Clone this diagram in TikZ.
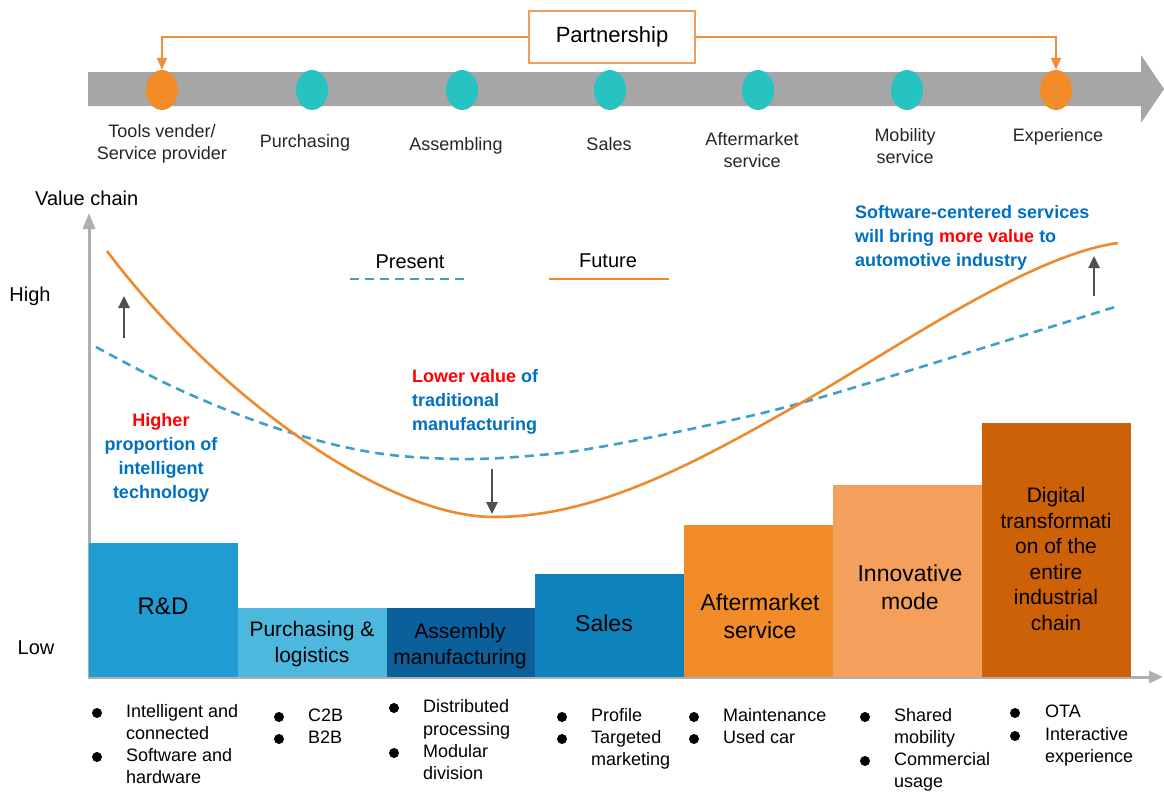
\documentclass[tikz,border=0pt]{standalone}
\usepackage{fontspec}
\setmainfont{Liberation Sans}
\usetikzlibrary{arrows.meta,shapes.geometric}
\definecolor{bargray}{HTML}{A6A6A6}
\definecolor{axisgray}{HTML}{AFAFAF}
\definecolor{tealc}{HTML}{27C3C3}
\definecolor{orangec}{HTML}{F28C28}
\definecolor{pborder}{HTML}{EFA060}
\definecolor{pline}{HTML}{EE8E3A}
\definecolor{futc}{HTML}{EE8A2E}
\definecolor{presc}{HTML}{3CA0C8}
\definecolor{darkar}{HTML}{505050}
\definecolor{bluet}{HTML}{0070C0}
\definecolor{redt}{HTML}{FF0000}
\definecolor{cRD}{HTML}{1F9DD2}
\definecolor{cPL}{HTML}{4DB8DD}
\definecolor{cAM}{HTML}{0B5F9A}
\definecolor{cSA}{HTML}{0E82BA}
\definecolor{cAF}{HTML}{F28C28}
\definecolor{cIN}{HTML}{F4A05C}
\definecolor{cDT}{HTML}{CC6108}
\begin{document}
\begin{tikzpicture}[x=1pt,y=-1pt,
  stage/.style={ellipse, minimum width=32, minimum height=40, inner sep=0, draw=none},
  toplab/.style={font=\fontsize{18}{22}\selectfont, align=center, inner sep=0, text=black!85},
  axlab/.style={font=\fontsize{20}{24}\selectfont, inner sep=0},
  ann/.style={font=\bfseries\fontsize{18}{24}\selectfont, inner sep=0, text=bluet},
  bar/.style={draw=none, inner sep=0, outer sep=0, anchor=south west},
  bartext/.style={font=\fontsize{23}{28}\selectfont, align=center, inner sep=0},
  bul/.style={font=\fontsize{18}{22}\selectfont, inner sep=0, anchor=west, text height=13, text depth=4},
  dot/.style={circle, fill=black, minimum size=10, inner sep=0},
  darr/.style={draw=darkar, line width=2.5, -{Triangle[width=11,length=12]}},
  parr/.style={draw=pline, line width=2, -{Triangle[width=10,length=12]}},
  presline/.style={presc, line width=2.6, dash pattern=on 9 off 6},
  futline/.style={futc, line width=2.6}
]
\useasboundingbox (0,0) rectangle (1164,792);

% top gray arrow
\fill[bargray] (88,72) -- (1141,72) -- (1141,55) -- (1164,89) -- (1141,123) -- (1141,106) -- (88,106) -- cycle;

% stages
\node[stage, fill=orangec] (c1) at (162,90) {};
\node[stage, fill=tealc] (c2) at (312,90) {};
\node[stage, fill=tealc] (c3) at (462,90) {};
\node[stage, fill=tealc] (c4) at (610,90) {};
\node[stage, fill=tealc] (c5) at (758,90) {};
\node[stage, fill=tealc] (c6) at (907,90) {};
\node[stage, fill=orangec] (c7) at (1056,90) {};

\node[draw=pborder, line width=1.8, fill=white, minimum width=166, minimum height=52, inner sep=0,
  font=\fontsize{22}{26}\selectfont] (pb) at (612,37) {Partnership};
\draw[parr] (pb.west) -| (c1.north);
\draw[parr] (pb.east) -| (c7.north);

\node[toplab] (l1) at (162,144) {Tools vender/\\Service provider};
\node[toplab] (l2) at (305,143) {Purchasing};
\node[toplab] (l3) at (456,146) {Assembling};
\node[toplab] (l4) at (609,144) {Sales};
\node[toplab] (l5) at (752,150) {Aftermarket\\service};
\node[toplab] (l6) at (905,146) {Mobility\\service};
\node[toplab] (l7) at (1058,137) {Experience};

% axes
\draw[axisgray, line width=3, -{Triangle[width=12,length=16]}] (89,679) -- (89,213);
\draw[axisgray, line width=3, -{Triangle[width=12,length=14]}] (89,677) -- (1163,677);
\node[axlab, anchor=west] (vc) at (35,198) {Value chain};
\node[axlab] (hi) at (30,296) {High};
\node[axlab] (lo) at (36,648) {Low};

% bars
\node[bar, fill=cRD, minimum width=149, minimum height=134] (b1) at (89,677) {};
\node[bar, fill=cPL, minimum width=149, minimum height=69] (b2) at (238,677) {};
\node[bar, fill=cAM, minimum width=148, minimum height=69] (b3) at (387,677) {};
\node[bar, fill=cSA, minimum width=149, minimum height=103] (b4) at (535,677) {};
\node[bar, fill=cAF, minimum width=149, minimum height=152] (b5) at (684,677) {};
\node[bar, fill=cIN, minimum width=149, minimum height=192] (b6) at (833,677) {};
\node[bar, fill=cDT, minimum width=149, minimum height=254] (b7) at (982,677) {};

\node[bartext, font=\fontsize{24}{28}\selectfont] (t1) at (163,606) {R\&D};
\node[bartext, font=\fontsize{21}{26}\selectfont] (t2) at (312,644) {Purchasing \&\\logistics};
\node[bartext, font=\fontsize{21}{26}\selectfont] (t3) at (460,646) {Assembly\\manufacturing};
\node[bartext] (t4) at (604,623) {Sales};
\node[bartext] (t5) at (760,616) {Aftermarket\\service};
\node[bartext] (t6) at (910,587) {Innovative\\mode};
\node[bartext, font=\fontsize{21}{25.6}\selectfont] (t7) at (1056,559) {Digital\\transformati\\on of the\\entire\\industrial\\chain};

% curves
\draw[presline] plot[smooth, tension=0.6] coordinates
  {(96,347) (180,390) (276,428) (370,452) (460,459) (540,455) (600,447) (700,427) (801,403) (960,355) (1118,306)};
\draw[futline] (107,251) .. controls (215,395) and (385,517) .. (494,517)
  .. controls (600,517) and (700,460) .. (801,403)
  .. controls (900,346) and (1030,255) .. (1118,243);

% legend
\node[axlab] (lp) at (410,262) {Present};
\draw[presline] (350,279) -- (468,279);
\node[axlab] (lf) at (608,261) {Future};
\draw[futline] (549,279) -- (669,279);

% dark arrows
\draw[darr] (124,338) -- (124,296);
\draw[darr] (492,469) -- (492,514);
\draw[darr] (1094,296) -- (1094,256);

% annotations
\node[ann, align=center] (a1) at (161,458) {{\color{redt}Higher}\\proportion of\\intelligent\\technology};
\node[ann, align=left, anchor=west] (a2) at (412,402) {{\color{redt}Lower value} of\\traditional\\manufacturing};
\node[ann, align=left, anchor=west] (a3) at (855,238) {Software-centered services\\will bring {\color{redt}more value} to\\automotive industry};

% bullet lists
\node[dot] at (97,713) {}; \node[dot] at (97,757) {};
\node[bul] at (126,713) {Intelligent and};
\node[bul] at (126,735) {connected};
\node[bul] at (126,757) {Software and};
\node[bul] at (126,779) {hardware};

\node[dot] at (279,717) {}; \node[dot] at (279,739) {};
\node[bul] at (308,717) {C2B};
\node[bul] at (308,739) {B2B};

\node[dot] at (394,708) {}; \node[dot] at (394,753) {};
\node[bul] at (423,708) {Distributed};
\node[bul] at (423,731) {processing};
\node[bul] at (423,753) {Modular};
\node[bul] at (423,775) {division};

\node[dot] at (562,717) {}; \node[dot] at (562,739) {};
\node[bul] at (591,717) {Profile};
\node[bul] at (591,739) {Targeted};
\node[bul] at (591,761) {marketing};

\node[dot] at (694,717) {}; \node[dot] at (694,739) {};
\node[bul] at (723,717) {Maintenance};
\node[bul] at (723,739) {Used car};

\node[dot] at (865,717) {}; \node[dot] at (865,761) {};
\node[bul] at (894,717) {Shared};
\node[bul] at (894,739) {mobility};
\node[bul] at (894,761) {Commercial};
\node[bul] at (894,783) {usage};

\node[dot] at (1015,713) {}; \node[dot] at (1015,736) {};
\node[bul] at (1045,713) {OTA};
\node[bul] at (1045,736) {Interactive};
\node[bul] at (1045,758) {experience};
\end{tikzpicture}
\end{document}
